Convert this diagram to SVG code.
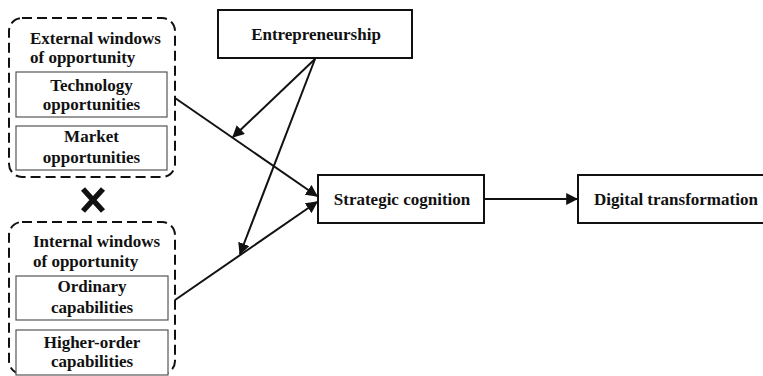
<svg xmlns="http://www.w3.org/2000/svg" width="763" height="376" viewBox="0 0 763 376">
<defs>
<style>
.t{font-family:"Liberation Serif","Times New Roman",serif;font-weight:bold;font-size:17px;fill:#111}
.c{text-anchor:middle}
.outer{fill:none;stroke:#111;stroke-width:2;stroke-dasharray:10 5}
.inner{fill:#fff;stroke:#555;stroke-width:1.2}
.box{fill:#fff;stroke:#111;stroke-width:2}
.ln{fill:none;stroke:#111;stroke-width:2;marker-end:url(#ah)}
</style>
<marker id="ah" viewBox="0 0 10 10" refX="9" refY="5" markerWidth="12" markerHeight="12" markerUnits="userSpaceOnUse" orient="auto">
<path d="M0,0 L10,5 L0,10 z" fill="#111"/>
</marker>
</defs>
<g id="external">
<rect class="outer" x="9" y="18" width="166" height="159" rx="13"/>
<text class="t" x="30" y="43.5">External windows</text>
<text class="t" x="30" y="63">of opportunity</text>
</g>
<g id="technology">
<rect class="inner" x="16" y="72" width="151" height="45"/>
<text class="t c" x="91.5" y="91">Technology</text>
<text class="t c" x="91.5" y="110">opportunities</text>
</g>
<g id="market">
<rect class="inner" x="16" y="126" width="151" height="44"/>
<text class="t c" x="91.5" y="142">Market</text>
<text class="t c" x="91.5" y="163">opportunities</text>
</g>
<g id="cross">
<path d="M83,189 L103,211 M103,189 L83,211" stroke="#111" stroke-width="5.5" fill="none"/>
</g>
<g id="internal">
<rect class="outer" x="9" y="222" width="166" height="152" rx="13"/>
<text class="t" x="33" y="247">Internal windows</text>
<text class="t" x="33" y="267">of opportunity</text>
</g>
<g id="ordinary">
<rect class="inner" x="16" y="276" width="152" height="44"/>
<text class="t c" x="92" y="292">Ordinary</text>
<text class="t c" x="92" y="313">capabilities</text>
</g>
<g id="higher">
<rect class="inner" x="16" y="330" width="152" height="45"/>
<text class="t c" x="92" y="348">Higher-order</text>
<text class="t c" x="92" y="367">capabilities</text>
</g>
<g id="entrepreneurship">
<rect class="box" x="218" y="10" width="194" height="48"/>
<text class="t c" x="316" y="40">Entrepreneurship</text>
</g>
<g id="strategic">
<rect class="box" x="318" y="175" width="166" height="48"/>
<text class="t c" x="402" y="205">Strategic cognition</text>
</g>
<g id="digital">
<rect class="box" x="578" y="175" width="190" height="48"/>
<text class="t" x="594" y="205">Digital transformation</text>
</g>
<g id="connectors">
<path class="ln" d="M175,98 L317,196"/>
<path class="ln" d="M175,300 L317,202"/>
<path class="ln" d="M315,59 L233,137"/>
<path class="ln" d="M315,59 L240,254"/>
<path class="ln" d="M484,199 L577,199"/>
</g>
</svg>
